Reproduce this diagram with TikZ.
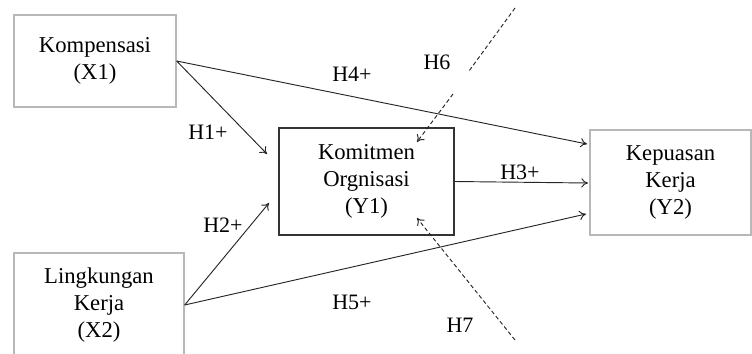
\documentclass[tikz,border=0pt]{standalone}
\usepackage{fontspec}
\setmainfont{Liberation Serif}
\usetikzlibrary{arrows.meta}
\begin{document}
\begin{tikzpicture}[x=0.75pt,y=-0.75pt,
  graybox/.style={draw=black!28,line width=1pt,align=center,inner sep=0pt,
    font=\fontsize{17}{20.5}\selectfont},
  darkbox/.style={draw=black!80,line width=0.8pt,align=center,inner sep=0pt,
    font=\fontsize{17}{20.5}\selectfont},
  path/.style={draw=black!85,line width=0.7pt,-{To[length=5pt,width=7pt]}},
  dpath/.style={draw=black!85,line width=0.7pt,dash pattern=on 3pt off 2pt},
  lbl/.style={font=\fontsize{16.5}{18}\selectfont,inner sep=0pt}]
\useasboundingbox (0,0) rectangle (752,353);
\begin{scope}
\clip (0,0) rectangle (752,353);
\node[graybox,minimum width=162*0.75pt,minimum height=92*0.75pt] (X1) at (95,61) {Kompensasi\\(X1)};
\node[graybox,minimum width=170*0.75pt,minimum height=104*0.75pt] (X2) at (99,305) {Lingkungan\\Kerja\\(X2)};
\node[darkbox,minimum width=175*0.75pt,minimum height=107*0.75pt] (Y1) at (366.5,181.5) {Komitmen\\Orgnisasi\\(Y1)};
\node[graybox,minimum width=161*0.75pt,minimum height=105*0.75pt] (Y2) at (670.5,182.5) {Kepuasan\\Kerja\\(Y2)};
\end{scope}
\coordinate (t1) at (267,154);
\coordinate (t4) at (587,144);
\coordinate (t2) at (269,203);
\coordinate (t5) at (586,214);
\coordinate (t3) at (588,183);
\coordinate (s6) at (515,8);
\coordinate (g6a) at (469,71);
\coordinate (g6b) at (453,94);
\coordinate (t6) at (417,142);
\coordinate (s7) at (515,340);
\coordinate (t7) at (417,218);
\draw[path] (X1.east) -- (t1);
\draw[path] (X1.east) -- (t4);
\draw[path] (X2.east) -- (t2);
\draw[path] (X2.east) -- (t5);
\draw[path] (Y1.east) -- (t3);
\draw[dpath] (s6) -- (g6a);
\draw[dpath,-{To[length=5pt,width=7pt]}] (g6b) -- (t6);
\draw[dpath,-{To[length=5pt,width=7pt]}] (s7) -- (t7);
\node[lbl] (h1) at (208,132) {H1+};
\node[lbl] (h2) at (223,225) {H2+};
\node[lbl] (h3) at (520,172) {H3+};
\node[lbl] (h4) at (352,74) {H4+};
\node[lbl] (h5) at (352,302) {H5+};
\node[lbl] (h6) at (437,62) {H6};
\node[lbl] (h7) at (460,325) {H7};
\end{tikzpicture}
\end{document}
